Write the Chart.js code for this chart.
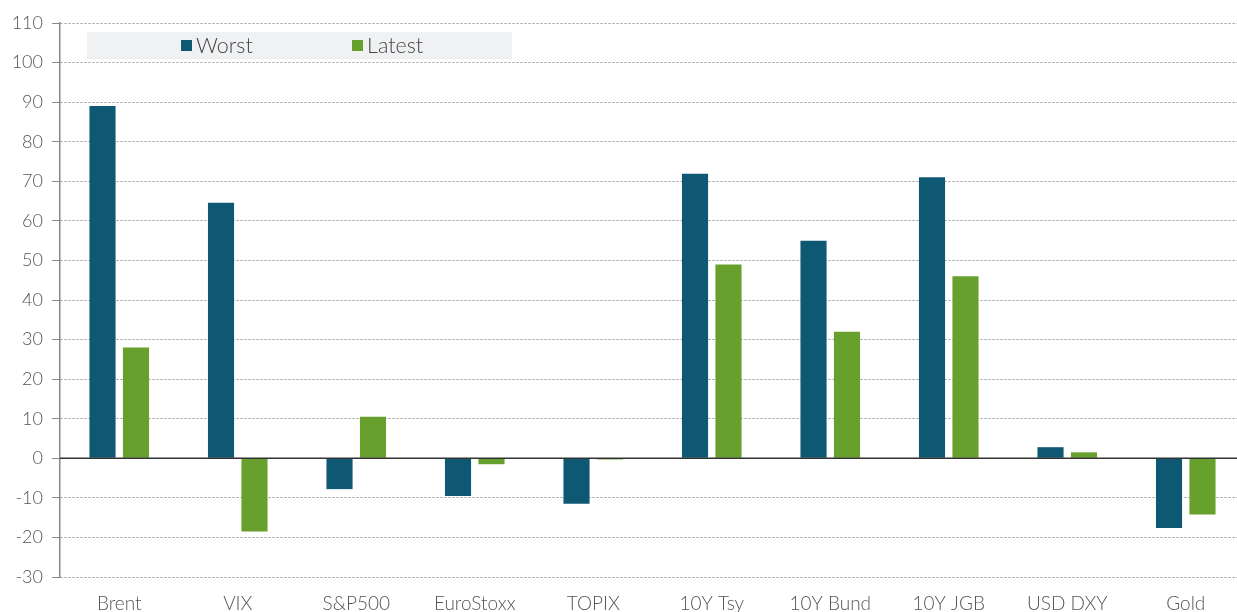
<!DOCTYPE html>
<html lang="en">
<head>
    <meta charset="UTF-8">
    <title>Worst vs Latest</title>
    <script src="https://cdn.jsdelivr.net/npm/chart.js"></script>
    <style>
        html, body { margin: 0; padding: 0; background: #fff; overflow: hidden; }
        #wrap { width: 1245px; height: 612px; }
    </style>
</head>
<body>
    <div id="wrap"><canvas id="barChart"></canvas></div>

    <script>
        const categories = ["Brent", "VIX", "S&P500", "EuroStoxx", "TOPIX", "10Y Tsy", "10Y Bund", "10Y JGB", "USD DXY", "Gold"];
        const worstValues = [89, 64.6, -7.8, -9.5, -11.5, 71.9, 55, 71, 2.8, -17.6];
        const latestValues = [28, -18.5, 10.5, -1.5, -0.3, 49, 32, 46, 1.5, -14.2];
        const yTicks = [-30, -20, -10, 0, 10, 20, 30, 40, 50, 60, 70, 80, 90, 100, 110];

        const fontFamily = "Lato, 'Open Sans', sans-serif";

        // grey legend strip drawn inside the plot
        const legendBox = {
            id: 'legendBox',
            afterDraw(chart) {
                const ctx = chart.ctx;
                ctx.save();
                ctx.fillStyle = '#f0f1f3';
                ctx.fillRect(87, 32, 425, 27);
                const starts = [181, 352];
                ctx.font = "300 21.5px " + fontFamily;
                ctx.textBaseline = 'middle';
                chart.data.datasets.forEach((ds, i) => {
                    ctx.fillStyle = ds.backgroundColor;
                    ctx.fillRect(starts[i], 40, 11, 11);
                    ctx.fillStyle = '#444';
                    ctx.fillText(ds.label, starts[i] + 15, 46);
                });
                ctx.restore();
            }
        };

        // solid zero line
        const zeroLine = {
            id: 'zeroLine',
            afterDatasetsDraw(chart) {
                const y = chart.scales.y.getPixelForValue(0);
                const ctx = chart.ctx;
                ctx.save();
                ctx.strokeStyle = '#333';
                ctx.lineWidth = 1.5;
                ctx.beginPath();
                ctx.moveTo(chart.chartArea.left, y);
                ctx.lineTo(chart.width, y);
                ctx.stroke();
                ctx.restore();
            }
        };

        new Chart(document.getElementById('barChart'), {
            type: 'bar',
            data: {
                labels: categories,
                datasets: [
                    { label: "Worst", data: worstValues, backgroundColor: "#0e5874" },
                    { label: "Latest", data: latestValues, backgroundColor: "#67a02c" }
                ]
            },
            options: {
                responsive: true,
                maintainAspectRatio: false,
                animation: false,
                layout: { padding: { top: 23, right: 0, left: 0, bottom: 0 } },
                categoryPercentage: 0.565,
                barPercentage: 0.78,
                plugins: {
                    legend: { display: false },
                    tooltip: { enabled: false }
                },
                scales: {
                    x: {
                        grid: { display: false, drawTicks: false },
                        border: { display: false },
                        ticks: {
                            color: '#555',
                            padding: 15,
                            maxRotation: 0,
                            font: { family: fontFamily, size: 19, weight: 300 }
                        },
                        afterFit(scale) { scale.height = 35; }
                    },
                    y: {
                        min: -30,
                        max: 110,
                        afterBuildTicks(scale) { scale.ticks = yTicks.map(v => ({ value: v })); },
                        grid: {
                            color: '#9a9a9a',
                            lineWidth: 1,
                            drawTicks: true,
                            tickLength: 8,
                            tickColor: '#888',
                            tickBorderDash: []
                        },
                        border: { display: true, color: '#888', width: 1.5, dash: [2, 2] },
                        ticks: {
                            color: '#555',
                            padding: 9,
                            font: { family: fontFamily, size: 18, weight: 300 }
                        },
                        afterFit(scale) { scale.width = 60; }
                    }
                }
            },
            plugins: [legendBox, zeroLine]
        });
    </script>
</body>
</html>
